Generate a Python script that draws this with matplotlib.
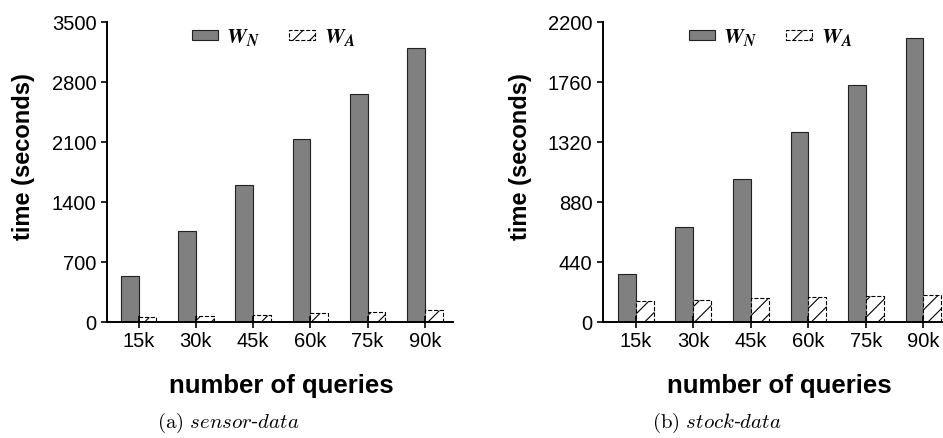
import numpy as np
import matplotlib
matplotlib.use('Agg')
import matplotlib.pyplot as plt
from matplotlib.font_manager import FontProperties

# dados
queries = ['15k', '30k', '45k', '60k', '75k', '90k']
sensor_wn = [537, 1062, 1602, 2139, 2660, 3193]
sensor_wa = [62, 75, 85, 105, 120, 135]
stock_wn = [352, 700, 1051, 1396, 1736, 2085]
stock_wa = [152, 164, 174, 181, 191, 201]
sensor_ticks = [0, 700, 1400, 2100, 2800, 3500]
stock_ticks = [0, 440, 880, 1320, 1760, 2200]

plt.rcParams['font.family'] = ['Liberation Sans', 'DejaVu Sans']
plt.rcParams['hatch.linewidth'] = 0.8

W, H = 943, 438
fig = plt.figure(figsize=(W / 100, H / 100), dpi=100)

def px_axes(x0, x1, y0, y1):
    return fig.add_axes([x0 / W, 1 - y1 / H, (x1 - x0) / W, (y1 - y0) / H])

ax1 = px_axes(107, 453, 22, 322)
ax2 = px_axes(603, 943, 22, 322)

leg_font = FontProperties(family='Liberation Serif', size=16, weight='bold',
                          style='italic', math_fontfamily='stix')
cap_font = FontProperties(size=15, math_fontfamily='cm')

x = np.arange(len(queries))
bw = 0.31

panels = [(ax1, sensor_wn, sensor_wa, sensor_ticks, (-0.55, 5.49), 0.2457,
           r'$\mathrm{(a)}\ \mathit{sensor}$-$\mathit{data}$', 228),
          (ax2, stock_wn, stock_wa, stock_ticks, (-0.57, 5.34), 0.253,
           r'$\mathrm{(b)}\ \mathit{stock}$-$\mathit{data}$', 717)]

for ax, wn, wa, yt, xl, leg_x, cap, cap_x in panels:
    ax.bar(x - bw / 2, wn, bw, color='#808080', edgecolor='#222222', linewidth=0.8,
           label=r'$\mathbfit{W}_{\mathbfit{N}}$')
    ax.bar(x + bw / 2, wa, bw, color='white', edgecolor='black', linewidth=0.8,
           linestyle='--', hatch='//', label=r'$\mathbfit{W}_{\mathbfit{A}}$')
    ax.set_xlim(*xl)
    ax.set_ylim(yt[0], yt[-1])
    ax.set_yticks(yt)
    ax.set_xticks(x)
    ax.set_xticklabels(queries)
    ax.tick_params(axis='both', labelsize=14.5, width=1.2)
    ax.tick_params(axis='x', direction='inout', length=8, pad=3)
    ax.tick_params(axis='y', direction='out', length=4)
    for s in ['top', 'right']:
        ax.spines[s].set_visible(False)
    for s in ['left', 'bottom']:
        ax.spines[s].set_linewidth(1.4)
    # rótulo do eixo x centrado sob os grupos de barras
    ax.set_xlabel('number of queries', fontsize=18.5, fontweight='bold')
    ax.xaxis.set_label_coords(((x[0] + x[-1]) / 2 - xl[0]) / (xl[1] - xl[0]), -0.175)
    ax.set_ylabel('time (seconds)', fontsize=17, fontweight='bold')
    ax.yaxis.set_label_coords(-0.208, 0.55)
    ax.legend(loc='center left', bbox_to_anchor=(leg_x, 0.948), ncol=2, frameon=False,
              prop=leg_font, handlelength=1.15, handleheight=0.33, handletextpad=0.4,
              columnspacing=1.3, borderpad=0, borderaxespad=0)
    fig.text(cap_x / W, 1 - 423 / H, cap, fontproperties=cap_font, ha='center', va='center')

fig.savefig('out.png', dpi=100)
